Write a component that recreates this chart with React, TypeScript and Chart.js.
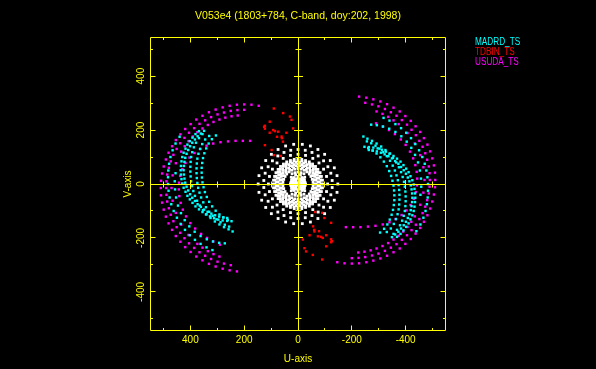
import React, { useEffect, useRef } from "react";
import { Chart, registerables } from "chart.js";

Chart.register(...registerables);

// ---- text ----
const TITLE = "V053e4 (1803+784, C-band, doy:202, 1998)";
const X_TITLE = "U-axis";
const Y_TITLE = "V-axis";
const X_TICK_LABELS = [400, 200, 0, -200, -400];
const Y_TICK_LABELS = [-400, -200, 0, 200, 400];
const MINOR_TICKS = [-500, -400, -300, -200, -100, 0, 100, 200, 300, 400, 500];
const STATIONS = ["MADRD_TS", "TDBIN_TS", "USUDA_TS"];

// ---- uv samples (u, v); the conjugate point (-u, -v) of each sample is plotted too ----
type P = [number, number];

// USUDA_TS (magenta)
const USUDA_1: P[] = [[146,290],[173,294],[200,295],[227,294],[254,290],[280,284],[306,276],[331,266],[355,253],[378,239],[399,222],[419,204],[437,184],[454,163],[468,140],[481,116],[491,91],[499,65],[505,39],[509,12],[510,-15],[509,-42],[505,-69],[499,-95],[491,-121],[481,-146],[468,-170],[454,-193],[437,-214],[419,-234],[399,-252],[378,-269],[355,-283],[331,-296],[306,-306],[280,-314],[254,-320],[227,-324]];
const USUDA_2: P[] = [[200,275],[225,274],[250,271],[275,265],[299,258],[323,248],[345,236],[366,223],[386,207],[405,190],[422,171],[438,151],[451,130],[463,108],[473,84],[480,60],[486,35],[489,10],[490,-15],[489,-40],[486,-65],[480,-90],[473,-114],[463,-138],[451,-160],[438,-181],[422,-201],[405,-220],[386,-237],[366,-253],[345,-266],[323,-278],[299,-288],[275,-295],[250,-301]];
const USUDA_3: P[] = [[224,254],[247,251],[270,246],[292,239],[314,230],[335,219],[355,206],[374,192],[391,176],[407,159],[421,140],[434,120],[454,77],[466,32],[470,-15],[466,-62],[454,-107],[434,-150],[407,-189],[374,-222],[355,-236],[335,-249],[314,-260],[292,-269]];
const USUDA_4: P[] = [[178,160],[205,160],[232,160],[260,158],[288,155],[315,150],[340,142],[363,130],[385,115],[403,98],[418,78],[430,55],[438,30],[442,5],[443,-20],[441,-45],[436,-70],[428,-95],[416,-120],[400,-145],[382,-165],[360,-185],[338,-200],[315,-213],[290,-225]];

// MADRD_TS (cyan)
const MADRD_0: P[] = [[440,175],[455,150],[466,125],[474,100],[479,75],[482,50],[483,25],[483,0],[481,-25],[477,-50],[471,-75],[462,-100],[450,-125],[436,-148],[420,-170],[402,-190],[383,-207],[362,-222],[340,-235],[318,-245]];
const MADRD_1: P[] = [[368,196],[381,185],[392,172],[402,159],[411,146],[418,131],[425,116],[430,100],[433,84],[435,67],[436,51],[435,35],[433,18],[430,2],[425,-14],[418,-29],[411,-44],[402,-57],[392,-70],[381,-83],[368,-94],[355,-104],[342,-113],[327,-120],[312,-127],[296,-132],[280,-135],[263,-137],[247,-138]];
const MADRD_2: P[] = [[349,197],[361,187],[373,177],[383,165],[393,153],[401,140],[408,126],[414,112],[419,97],[422,82],[424,67],[425,51],[424,35],[422,20],[419,5],[414,-10],[408,-24],[401,-38],[393,-51],[383,-63],[373,-75],[361,-85],[349,-95],[336,-103],[322,-110],[308,-116],[293,-121],[278,-124],[263,-126]];
const MADRD_3: P[] = [[355,185],[368,170],[379,153],[387,136],[393,118],[397,100],[399,82],[400,64],[400,46],[399,28],[397,10],[394,-8],[389,-26],[383,-44],[375,-62],[365,-80],[353,-97],[340,-112],[325,-126],[309,-139],[292,-150],[275,-160],[258,-168],[243,-176]];
const MADRD_4: P[] = [[330,178],[345,165],[356,148],[364,130],[370,112],[374,94],[376,76],[377,58],[377,40],[376,22],[374,4],[371,-14],[366,-32],[360,-50],[352,-68],[342,-86],[330,-103],[317,-118],[303,-131],[288,-142],[272,-151],[256,-158]];
const MADRD_5: P[] = [[305,180],[320,166],[332,150],[341,132],[348,114],[353,96],[356,78],[358,60],[358,42],[357,24],[355,6],[351,-12],[346,-30],[339,-48],[330,-66],[319,-83],[306,-99],[292,-113],[277,-124],[261,-133]];
const MADRD_6: P[] = [[455,40],[458,10],[457,-20],[453,-50],[446,-80],[435,-108],[421,-134],[404,-157],[384,-177],[362,-193],[339,-205],[316,-213],[293,-218],[272,-220]];

// TDBIN_TS (red)
const TDBIN_1: P[] = [[90,280],[55,263],[24,238],[30,250],[105,231],[126,212],[123,216],[123,205],[92,200],[86,196],[74,194],[105,190],[43,190],[18,206],[61,176],[78,175],[60,170],[56,157],[123,144],[98,126],[90,107],[64,104]];

// short baselines (white)
const SHORT_1: P[] = [[148,0],[145,31],[135,60],[120,87],[99,110],[74,128],[46,141],[16,147],[-16,147],[-46,141],[-74,128],[-99,110],[-120,87],[-135,60],[-145,31]];
const SHORT_2: P[] = [[127,13],[122,40],[111,64],[95,86],[75,104],[52,117],[27,125],[0,128],[-27,125],[-52,117],[-75,104],[-95,86],[-111,64],[-122,40],[-127,13]];
const SHORT_3: P[] = [[110,0],[106,28],[95,55],[78,78],[55,95],[28,106],[0,110],[-28,106],[-55,95],[-78,78],[-95,55],[-106,28]];
const SHORT_4: P[] = [[92,0],[91,14],[87,28],[82,42],[74,54],[65,65],[54,74],[42,82],[28,87],[14,91],[0,92],[-14,91],[-28,87],[-42,82],[-54,74],[-65,65],[-74,54],[-82,42],[-87,28],[-91,14]];
const SHORT_5: P[] = [[86,0],[85,15],[81,29],[74,43],[66,55],[55,66],[43,74],[29,81],[15,85],[0,86],[-15,85],[-29,81],[-43,74],[-55,66],[-66,55],[-74,43],[-81,29],[-85,15]];
const SHORT_6: P[] = [[80,7],[77,21],[72,34],[66,46],[57,57],[46,66],[34,72],[21,77],[7,80],[-7,80],[-21,77],[-34,72],[-46,66],[-57,57],[-66,46],[-72,34],[-77,21],[-80,7]];
const SHORT_7: P[] = [[74,8],[70,23],[64,37],[55,50],[43,60],[30,68],[15,72],[0,74],[-15,72],[-30,68],[-43,60],[-55,50],[-64,37],[-70,23],[-74,8]];
const SHORT_8: P[] = [[68,0],[67,14],[62,28],[55,40],[45,51],[34,59],[21,65],[7,68],[-7,68],[-21,65],[-34,59],[-45,51],[-55,40],[-62,28],[-67,14]];
const SHORT_9: P[] = [[62,0],[60,16],[54,31],[44,44],[31,54],[16,60],[0,62],[-16,60],[-31,54],[-44,44],[-54,31],[-60,16]];
const SHORT_10: P[] = [[56,6],[53,17],[48,28],[42,37],[33,45],[23,51],[12,55],[0,56],[-12,55],[-23,51],[-33,45],[-42,37],[-48,28],[-53,17],[-56,6]];
const SHORT_11: P[] = [[22,38],[11,42],[0,44],[-11,42],[-22,38],[25,25],[9,34],[-9,34],[-25,25]];
const SHORT_12: P[] = [[28,0],[24,14],[14,24],[0,28],[-14,24],[-24,14],[21,0],[15,15],[0,21],[-15,15],[14,0],[7,12],[-7,12],[0,0],[4,4],[-4,4],[10,5],[-10,5],[18,8],[-18,8],[8,18],[-8,18],[26,6],[-26,6],[20,20],[-20,20]];

const YELLOW = "#ffff00";
const COLOR_MADRD = "#00ffff";
const COLOR_TDBIN = "#ff0000";
const COLOR_USUDA = "#ff00ff";
const COLOR_SHORT = "#ffffff";
const STATION_COLORS = [COLOR_MADRD, COLOR_TDBIN, COLOR_USUDA];

const FONT = '"Liberation Sans", "DejaVu Sans", sans-serif';

function withConjugates(tracks: P[][]) {
  const pts: P[] = ([] as P[]).concat(...tracks);
  const all = pts.concat(pts.map(([u, v]) => [-u, -v] as P));
  return all.map(([u, v]) => ({ x: u, y: v }));
}

function drawText(
  ctx: CanvasRenderingContext2D,
  text: string,
  x: number,
  y: number,
  size: number,
  color: string,
  align: CanvasTextAlign,
  rotate = 0,
  sx = 1
) {
  ctx.save();
  ctx.translate(x, y);
  if (rotate) ctx.rotate(rotate);
  ctx.scale(sx, 1);
  ctx.font = `${size}px ${FONT}`;
  ctx.fillStyle = color;
  ctx.textAlign = align;
  ctx.textBaseline = "middle";
  ctx.fillText(text, 0, 0);
  ctx.restore();
}

const pgplotFrame = {
  id: "pgplotFrame",
  beforeDraw(chart: any) {
    const ctx = chart.ctx as CanvasRenderingContext2D;
    ctx.save();
    ctx.fillStyle = "#000";
    ctx.fillRect(0, 0, chart.width, chart.height);
    ctx.restore();
  },
  afterDatasetsDraw(chart: any) {
    const ctx = chart.ctx as CanvasRenderingContext2D;
    const a = chart.chartArea;
    const xs = chart.scales.x;
    const ys = chart.scales.y;
    const L = Math.round(a.left) + 0.5;
    const R = Math.round(a.right) - 0.5;
    const T = Math.round(a.top) + 0.5;
    const B = Math.round(a.bottom) - 0.5;
    const x0 = Math.floor(xs.getPixelForValue(0)) + 0.5;
    const y0 = Math.floor(ys.getPixelForValue(0)) + 0.5;

    ctx.save();
    ctx.strokeStyle = YELLOW;
    ctx.lineWidth = 1;
    ctx.beginPath();
    ctx.rect(L, T, R - L, B - T);
    // zero axes
    ctx.moveTo(x0, T);
    ctx.lineTo(x0, B);
    ctx.moveTo(L, y0);
    ctx.lineTo(R, y0);

    for (const t of MINOR_TICKS) {
      const major = t % 200 === 0;
      const len = major ? 5 : 2.5;
      const half = major ? 4.5 : 3;
      const px = Math.floor(xs.getPixelForValue(t)) + 0.5;
      const py = Math.floor(ys.getPixelForValue(t)) + 0.5;
      // frame ticks (inward)
      ctx.moveTo(px, B); ctx.lineTo(px, B - len);
      ctx.moveTo(px, T); ctx.lineTo(px, T + len);
      ctx.moveTo(L, py); ctx.lineTo(L + len, py);
      ctx.moveTo(R, py); ctx.lineTo(R - len, py);
      if (t !== 0) {
        // ticks across the zero axes
        ctx.moveTo(px, y0 - half); ctx.lineTo(px, y0 + half);
        ctx.moveTo(x0 - half, py); ctx.lineTo(x0 + half, py);
      }
    }
    ctx.stroke();
    ctx.restore();

    // tick labels
    for (const t of X_TICK_LABELS) {
      drawText(ctx, String(t), xs.getPixelForValue(t), 340, 10, YELLOW, "center");
    }
    for (const t of Y_TICK_LABELS) {
      drawText(ctx, String(t), 141.5, ys.getPixelForValue(t), 10, YELLOW, "center", -Math.PI / 2);
    }
    // titles
    drawText(ctx, TITLE, (a.left + a.right) / 2, 16, 10.5, YELLOW, "center");
    drawText(ctx, X_TITLE, (a.left + a.right) / 2, 359, 10, YELLOW, "center");
    drawText(ctx, Y_TITLE, 128.5, (a.top + a.bottom) / 2, 10, YELLOW, "center", -Math.PI / 2);
    // legend
    STATIONS.forEach((s, i) => {
      drawText(ctx, s, 475, 42.3 + i * 10.2, 10, STATION_COLORS[i], "left", 0, 0.82);
    });
  },
};

export default function App() {
  const ref = useRef<HTMLCanvasElement>(null);
  useEffect(() => {
    document.body.style.margin = "0";
    document.body.style.background = "#000";
    const pointOpts = (r: number) => ({
      showLine: false,
      pointStyle: "rect" as const,
      pointRadius: r,
      pointBorderWidth: 0,
      pointHoverRadius: r,
    });
    const chart = new Chart(ref.current as HTMLCanvasElement, {
      type: "scatter",
      data: {
        datasets: [
          {
            label: "short",
            data: withConjugates([SHORT_1, SHORT_2, SHORT_3, SHORT_4, SHORT_5, SHORT_6, SHORT_7, SHORT_8, SHORT_9, SHORT_10, SHORT_11, SHORT_12]),
            backgroundColor: COLOR_SHORT,
            borderColor: COLOR_SHORT,
            ...pointOpts(2),
          },
          {
            label: STATIONS[0],
            data: withConjugates([MADRD_0, MADRD_1, MADRD_2, MADRD_3, MADRD_4, MADRD_5, MADRD_6]),
            backgroundColor: COLOR_MADRD,
            borderColor: COLOR_MADRD,
            ...pointOpts(1.7),
          },
          {
            label: STATIONS[1],
            data: withConjugates([TDBIN_1]),
            backgroundColor: COLOR_TDBIN,
            borderColor: COLOR_TDBIN,
            ...pointOpts(1.7),
          },
          {
            label: STATIONS[2],
            data: withConjugates([USUDA_1, USUDA_2, USUDA_3, USUDA_4]),
            backgroundColor: COLOR_USUDA,
            borderColor: COLOR_USUDA,
            ...pointOpts(1.7),
          },
        ],
      },
      options: {
        animation: false,
        responsive: false,
        devicePixelRatio: 1,
        events: [],
        layout: { padding: { left: 150, right: 150, top: 37, bottom: 38 } },
        plugins: {
          legend: { display: false },
          tooltip: { enabled: false },
          title: { display: false },
        },
        scales: {
          x: { type: "linear", min: -550, max: 550, reverse: true, display: false },
          y: { type: "linear", min: -545, max: 545, display: false },
        },
      },
      plugins: [pgplotFrame],
    });
    return () => chart.destroy();
  }, []);
  return (
    <div style={{ width: 596, height: 369, background: "#000" }}>
      <canvas ref={ref} width={596} height={369} style={{ display: "block" }} />
    </div>
  );
}
